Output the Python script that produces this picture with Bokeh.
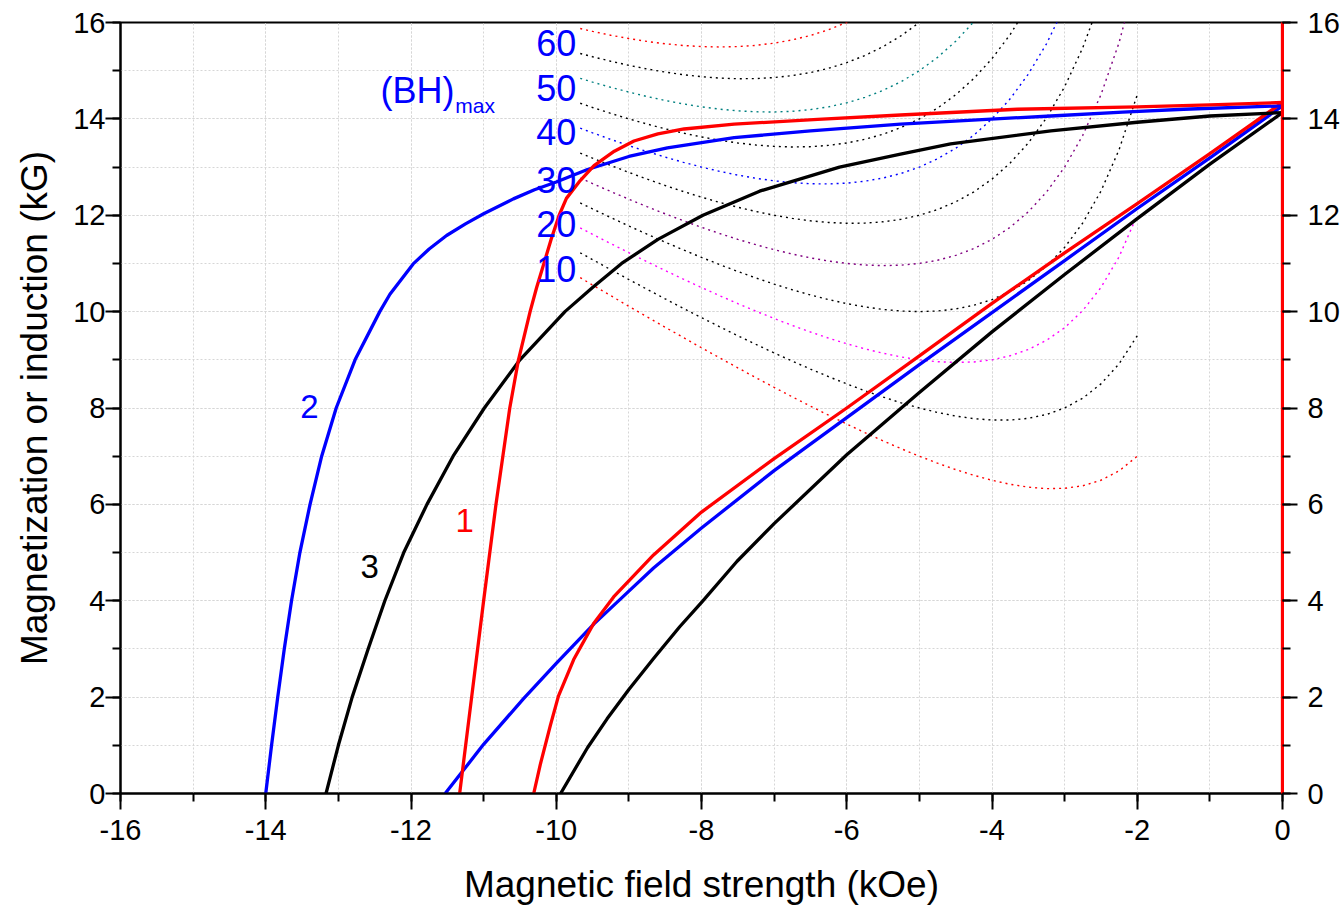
from bokeh.plotting import figure
from bokeh.models import LinearAxis, SingleIntervalTicker, Range1d
from bokeh.core.properties import value
from bokeh.embed import file_html
from bokeh.resources import INLINE

FONT = "Liberation Sans"

# ---------------- data ----------------
# Intrinsic (magnetization) demagnetization curves J(H), kG vs kOe
blue_J_H = [-14.0, -13.92, -13.835, -13.745, -13.645, -13.53, -13.39, -13.23, -13.03, -12.77,
            -12.43, -12.29, -11.97, -11.75, -11.51, -11.25, -11.0, -10.59, -10.3, -10.0,
            -9.57, -9.0, -8.47, -7.55, -6.5, -5.26, -4.2, -3.19, -2.2, -1.36, 0.0]
blue_J = [0.0, 1.0, 2.0, 3.0, 4.0, 5.0, 6.0, 7.0, 8.0, 9.0,
          10.0, 10.36, 10.99, 11.3, 11.58, 11.82, 12.03, 12.34, 12.53, 12.69,
          12.95, 13.22, 13.40, 13.61, 13.75, 13.89, 13.98, 14.06, 14.14, 14.20, 14.27]

red_J_H = [-11.33, -11.165, -11.0, -10.83, -10.64, -10.52, -10.36, -10.27, -10.17, -10.07,
           -9.96, -9.86, -9.67, -9.48, -9.2, -8.93, -8.6, -8.24, -7.55, -6.40,
           -5.26, -3.65, -2.0, -1.0, 0.0]
red_J = [0.0, 2.0, 4.0, 6.0, 8.0, 9.0, 10.0, 10.5, 11.0, 11.5,
         12.0, 12.35, 12.72, 13.03, 13.33, 13.54, 13.69, 13.79, 13.89, 13.99,
         14.08, 14.20, 14.25, 14.29, 14.34]

black_J_H = [-13.17, -13.0, -12.81, -12.59, -12.36, -12.1, -11.78, -11.42, -10.99, -10.5,
             -9.88, -9.5, -9.1, -8.6, -7.98, -7.2, -6.1, -5.26, -4.57, -3.19,
             -2.0, -1.0, 0.0]
black_J = [0.0, 1.0, 2.0, 3.0, 4.0, 5.0, 6.0, 7.0, 8.0, 9.0,
           10.0, 10.5, 11.0, 11.5, 12.0, 12.5, 13.0, 13.27, 13.48, 13.75,
           13.93, 14.06, 14.13]

# Normal (induction) curves B(H)
blue_B_H = [-11.53, -11.0, -10.45, -10.0, -9.48, -9.0, -8.66, -8.0, -7.0, -6.0, -5.0,
            -4.0, -3.0, -2.0, -1.0, 0.0]
blue_B = [0.0, 1.02, 1.97, 2.70, 3.52, 4.2, 4.68, 5.51, 6.7, 7.8, 8.9,
          9.98, 11.06, 12.14, 13.19, 14.27]

red_B_H = [-10.31, -10.22, -10.08, -9.97, -9.76, -9.48, -9.21, -8.66, -8.0, -7.0, -6.0,
           -5.0, -4.0, -3.0, -2.0, -1.0, 0.0]
red_B = [0.0, 0.6, 1.42, 2.02, 2.78, 3.54, 4.08, 4.95, 5.84, 6.95, 8.0,
         9.08, 10.17, 11.22, 12.24, 13.28, 14.34]

black_B_H = [-9.94, -9.57, -9.30, -9.0, -8.66, -8.30, -7.99, -7.51, -7.0, -6.0, -5.0,
             -4.0, -3.0, -2.0, -1.0, 0.0]
black_B = [0.0, 0.95, 1.55, 2.16, 2.8, 3.46, 3.98, 4.82, 5.6, 7.03, 8.32,
           9.58, 10.77, 11.93, 13.06, 14.13]

# vertical red line at H = 0
edge_H = [0.0, 0.0]
edge_B = [0.0, 16.0]

# (BH)max iso-energy contours (MGOe), drawn in the J-H plane
bh_levels = [60, 55, 50, 45, 40, 35, 30, 25, 20, 15, 10]
bh_colors = ["#FF0000", "#000000", "#008080", "#000000", "#0000FF", "#000000",
             "#800080", "#000000", "#FF00FF", "#000000", "#FF0000"]
bh_H = [-9.67] + [k / 4 for k in range(-38, -7)]

# labels
bh_label_text = ["60", "50", "40", "30", "20", "10"]
bh_label_y = [15.57, 14.635, 13.72, 12.74, 11.81, 10.88]
curve_label_text = ["2", "3", "1"]
curve_label_x = [-13.40, -12.57, -11.26]
curve_label_y = [8.03, 4.71, 5.665]
curve_label_color = ["#0000FF", "#000000", "#FF0000"]

x_ticks = [-16, -14, -12, -10, -8, -6, -4, -2, 0]
y_ticks = [0, 2, 4, 6, 8, 10, 12, 14, 16]

# ---------------- figure ----------------
p = figure(frame_width=1162, frame_height=771,
           x_range=Range1d(-16, 0), y_range=Range1d(0, 16),
           output_backend="svg", toolbar_location=None,
           min_border_left=120, min_border_top=22, min_border_right=0, min_border_bottom=0,
           background_fill_color="white", border_fill_color="white")
p.outline_line_color = "black"
p.outline_line_width = 2

ticker_x = SingleIntervalTicker(interval=2, num_minor_ticks=2)
ticker_y = SingleIntervalTicker(interval=2, num_minor_ticks=2)

p.xaxis.ticker = ticker_x
p.yaxis.ticker = ticker_y

right_axis = LinearAxis(ticker=ticker_y)
p.add_layout(right_axis, "right")

for ax in [p.xaxis[0], p.yaxis[0], right_axis]:
    ax.axis_line_width = 2
    ax.axis_line_color = "black"
    ax.major_tick_line_width = 2
    ax.minor_tick_line_width = 2
    ax.major_tick_in = 0
    ax.minor_tick_in = 0
    ax.major_tick_out = 15
    ax.minor_tick_out = 8
    ax.major_label_text_font = FONT
    ax.major_label_text_font_size = "29px"
    ax.major_label_text_color = "black"
    ax.axis_label_text_font = FONT
    ax.axis_label_text_font_size = "37px"
    ax.axis_label_text_font_style = "normal"
    ax.axis_label_text_color = "black"

p.xaxis[0].major_label_overrides = {v: str(v) for v in x_ticks}
p.yaxis[0].major_label_overrides = {v: str(v) for v in y_ticks}
right_axis.major_label_overrides = {v: str(v) for v in y_ticks}

p.xaxis[0].major_tick_out = 16
p.xaxis[0].major_label_standoff = 10
p.xaxis[0].axis_label = "Magnetic field strength (kOe)"
p.xaxis[0].axis_label_standoff = 21

p.yaxis[0].major_label_standoff = 0
p.yaxis[0].axis_label = "Magnetization or induction (kG)"
p.yaxis[0].axis_label_standoff = 15

right_axis.major_label_standoff = 10
right_axis.axis_line_color = "#FF0000"
right_axis.axis_line_width = 3

for g in [p.xgrid[0], p.ygrid[0]]:
    g.grid_line_color = "#d6d6d6"
    g.grid_line_dash = "2 2"
    g.grid_line_width = 1
    g.minor_grid_line_color = "#d6d6d6"
    g.minor_grid_line_dash = "2 2"
    g.minor_grid_line_width = 1
p.xgrid[0].ticker = ticker_x
p.ygrid[0].ticker = ticker_y

# (BH)max dotted contours: J = E/|H| + |H|
for E, c in zip(bh_levels, bh_colors):
    ys = [E / (-h) + (-h) for h in bh_H]
    p.line(bh_H, ys, line_color=c, line_width=1.4, line_dash="2 4")

# main curves
LW = 3.3
p.line(blue_B_H, blue_B, line_color="#0000FF", line_width=LW, line_join="round")
p.line(black_B_H, black_B, line_color="#000000", line_width=LW, line_join="round")
p.line(red_B_H, red_B, line_color="#FF0000", line_width=LW, line_join="round")
p.line(black_J_H, black_J, line_color="#000000", line_width=LW, line_join="round")
p.line(blue_J_H, blue_J, line_color="#0000FF", line_width=LW, line_join="round")
p.line(red_J_H, red_J, line_color="#FF0000", line_width=LW, line_join="round")
p.line(edge_H, edge_B, line_color="#FF0000", line_width=LW)

# labels
p.text(x=[-10.0] * len(bh_label_text), y=bh_label_y, text=bh_label_text,
       text_font=value(FONT), text_font_size="36px", text_color="#0000FF",
       text_align="center", text_baseline="alphabetic")
p.text(x=[-12.42], y=[14.58], text=["(BH)"], text_font=value(FONT), text_font_size="36px",
       text_color="#0000FF", text_align="left", text_baseline="alphabetic")
p.text(x=[-11.39], y=[14.27], text=["max"], text_font=value(FONT), text_font_size="21px",
       text_color="#0000FF", text_align="left", text_baseline="alphabetic")
p.text(x=curve_label_x, y=curve_label_y, text=curve_label_text, text_font=value(FONT),
       text_font_size="33px", text_color=curve_label_color,
       text_align="center", text_baseline="alphabetic")

open("out.html", "w").write(file_html(p, INLINE))
